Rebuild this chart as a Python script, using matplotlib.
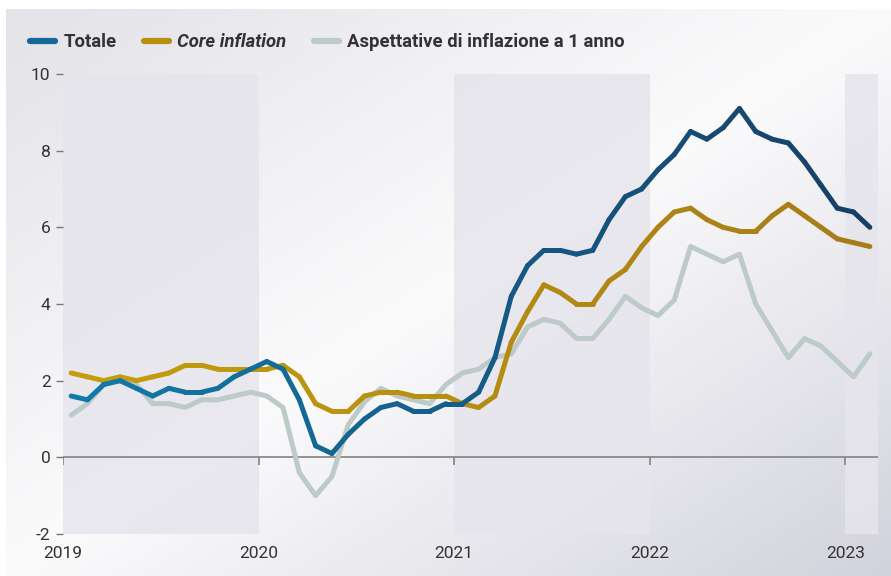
import numpy as np
import matplotlib
matplotlib.use("Agg")
import matplotlib.pyplot as plt
from matplotlib.collections import LineCollection
from matplotlib.colors import LinearSegmentedColormap, to_rgb
from matplotlib.lines import Line2D

plt.rcParams["font.family"] = ["Roboto", "DejaVu Sans"]

# monthly data, Jan 2019 .. Feb 2023
totale = [1.6, 1.5, 1.9, 2.0, 1.8, 1.6, 1.8, 1.7, 1.7, 1.8, 2.1, 2.3,
          2.5, 2.3, 1.5, 0.3, 0.1, 0.6, 1.0, 1.3, 1.4, 1.2, 1.2, 1.4,
          1.4, 1.7, 2.6, 4.2, 5.0, 5.4, 5.4, 5.3, 5.4, 6.2, 6.8, 7.0,
          7.5, 7.9, 8.5, 8.3, 8.6, 9.1, 8.5, 8.3, 8.2, 7.7, 7.1, 6.5,
          6.4, 6.0]
core = [2.2, 2.1, 2.0, 2.1, 2.0, 2.1, 2.2, 2.4, 2.4, 2.3, 2.3, 2.3,
        2.3, 2.4, 2.1, 1.4, 1.2, 1.2, 1.6, 1.7, 1.7, 1.6, 1.6, 1.6,
        1.4, 1.3, 1.6, 3.0, 3.8, 4.5, 4.3, 4.0, 4.0, 4.6, 4.9, 5.5,
        6.0, 6.4, 6.5, 6.2, 6.0, 5.9, 5.9, 6.3, 6.6, 6.3, 6.0, 5.7,
        5.6, 5.5]
aspett = [1.1, 1.4, 1.9, 2.0, 1.9, 1.4, 1.4, 1.3, 1.5, 1.5, 1.6, 1.7,
          1.6, 1.3, -0.4, -1.0, -0.5, 0.85, 1.45, 1.8, 1.6, 1.5, 1.4, 1.9,
          2.2, 2.3, 2.6, 2.7, 3.4, 3.6, 3.5, 3.1, 3.1, 3.6, 4.2, 3.9,
          3.7, 4.1, 5.5, 5.3, 5.1, 5.3, 4.0, 3.3, 2.6, 3.1, 2.9, 2.5,
          2.1, 2.7]
anni = ["2019", "2020", "2021", "2022", "2023"]
etichette = ["Totale", "Core inflation", "Aspettative di inflazione a 1 anno"]

x = np.arange(len(totale)) + 0.5

fig = plt.figure(figsize=(8.91, 5.76), dpi=100, facecolor="white")

# background panel: light along the diagonal, greyer toward top-left / bottom-right
bg = fig.add_axes([6 / 891, 0, 1 - 6 / 891, 1 - 9 / 576], zorder=-10)
gx, gy = np.meshgrid(np.linspace(0, 1, 300), np.linspace(0, 1, 200))
d = gx + gy - 1.0
w = np.array(to_rgb("#fbfbfc"))
tl = np.array(to_rgb("#e3e3e8"))
br = np.array(to_rgb("#d2d2dc"))
t = np.clip(np.abs(d), 0, 1)[..., None]
img = np.where(d[..., None] < 0, w * (1 - t) + tl * t, w * (1 - t) + br * t)
bg.imshow(img, extent=[0, 1, 0, 1], aspect="auto", origin="upper")
bg.axis("off")

ax = fig.add_axes([63 / 891, 1 - 534 / 576, (878 - 63) / 891, (534 - 74) / 576])
ax.set_facecolor("none")
ax.set_xlim(0, 50)
ax.set_ylim(-2, 10)

# shaded year bands
for a, b in [(0, 12), (24, 36), (48, 50)]:
    ax.axvspan(a, b, color="#e6e5ec", alpha=0.85, lw=0, zorder=0)

ax.axhline(0, color="#8a8a8a", lw=1.3, zorder=1)
xt = [0, 12, 24, 36, 48]
ax.plot(xt, [0] * len(xt), ls="none", marker=3, markersize=6, mew=1.3,
        color="#8a8a8a", zorder=1)


def grad_line(ax, xs, ys, c_start, c_end, lw):
    pts = np.column_stack([xs, ys]).reshape(-1, 1, 2)
    segs = np.concatenate([pts[:-1], pts[1:]], axis=1)
    cm = LinearSegmentedColormap.from_list("g", [c_start, c_end])
    cols = cm(np.linspace(0, 1, len(segs)))
    lc = LineCollection(segs, colors=cols, linewidths=lw, capstyle="round",
                        joinstyle="round", zorder=3)
    ax.add_collection(lc)


lw = 3.6
ax.plot(x, aspett, color="#bccbc8", lw=lw, solid_capstyle="round",
        solid_joinstyle="round", zorder=2)
grad_line(ax, x, core, "#c49e0c", "#a67c18", lw)
grad_line(ax, x, totale, "#127aa8", "#173f66", lw)

for s in ax.spines.values():
    s.set_visible(False)
ax.set_yticks([-2, 0, 2, 4, 6, 8, 10])
ax.set_yticklabels(["-2", "0", "2", "4", "6", "8", "10"])
ax.set_xticks(xt)
ax.set_xticklabels(anni)
ax.tick_params(axis="y", length=5, width=1, color="#777777", pad=4,
               labelsize=12.5, labelcolor="#333333")
ax.tick_params(axis="x", length=0, pad=9, labelsize=12.5, labelcolor="#333333")

handles = [Line2D([], [], color="#14699a", lw=4.5, solid_capstyle="round"),
           Line2D([], [], color="#b8900f", lw=4.5, solid_capstyle="round"),
           Line2D([], [], color="#bccbc8", lw=4.5, solid_capstyle="round")]
leg = fig.legend(handles, etichette, loc="center left",
                 bbox_to_anchor=(30 / 891, 1 - 42 / 576), ncol=3, frameon=False,
                 handlelength=1.35, handletextpad=0.45, columnspacing=1.5,
                 prop={"size": 13.3, "weight": "bold"}, borderaxespad=0,
                 borderpad=0)
for t in leg.get_texts():
    t.set_color("#333333")
leg.get_texts()[1].set_style("italic")

fig.savefig("out.png", dpi=100)
